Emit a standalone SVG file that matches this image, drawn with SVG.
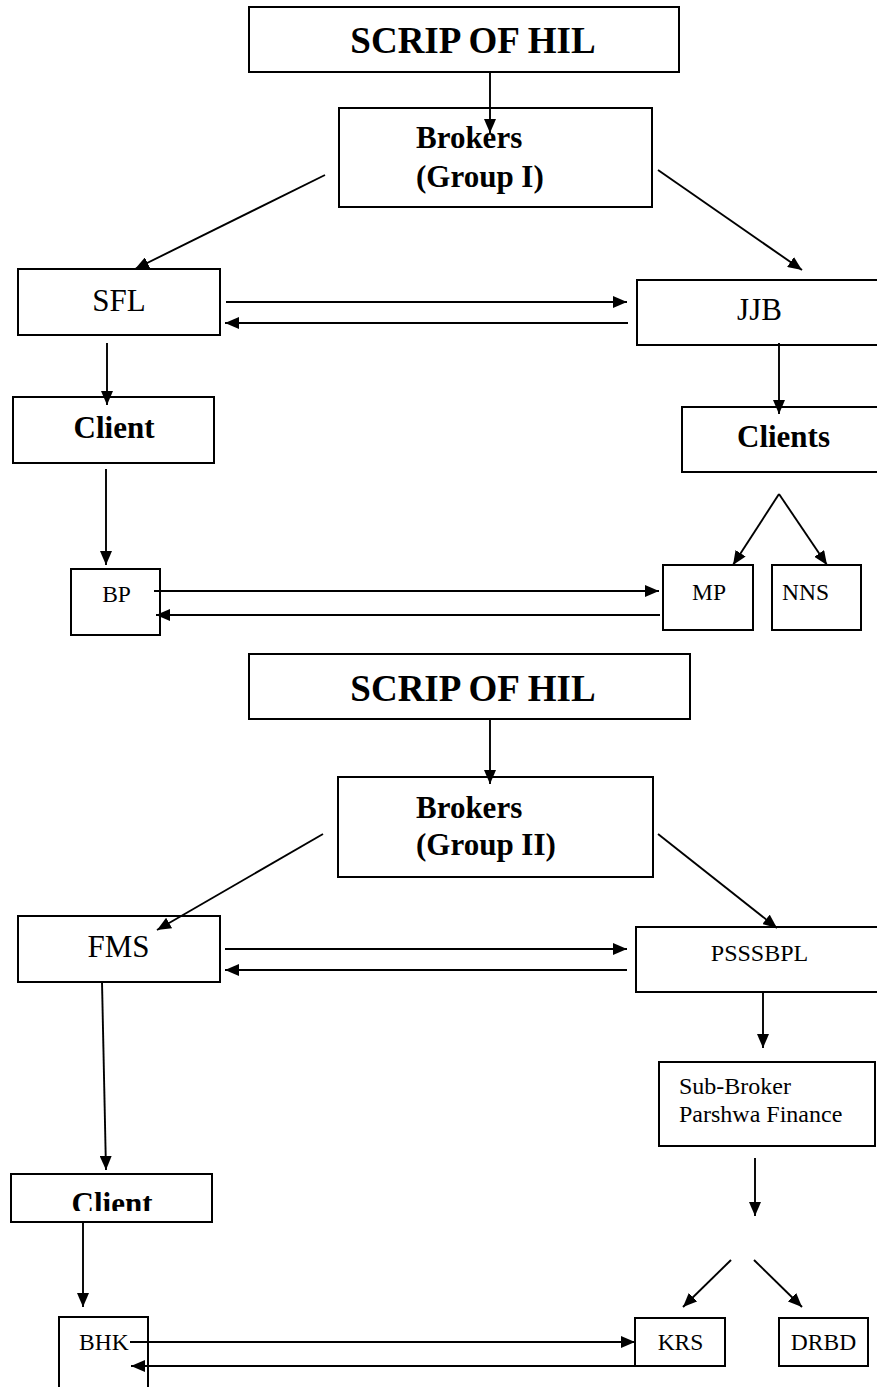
<svg xmlns="http://www.w3.org/2000/svg" width="877" height="1387" viewBox="0 0 877 1387">
<style>
.box{fill:#fff;stroke:#000;stroke-width:2}
.t{font-family:"Liberation Serif","Times New Roman",serif;fill:#000}
.b{font-weight:bold}
.big{font-size:37px}
.mid{font-size:31px}
.sm{font-size:23.5px}
.c{text-anchor:middle}
.ln{fill:none;stroke:#000;stroke-width:1.9}
.arr{marker-end:url(#ah)}
</style>
<defs>
<marker id="ah" viewBox="0 0 14 12" refX="14" refY="6" markerWidth="14" markerHeight="12" markerUnits="userSpaceOnUse" orient="auto">
<path d="M0,0 L14,6 L0,12 z" fill="#000"/>
</marker>
<clipPath id="clipClient"><rect x="0" y="1170" width="300" height="41"/></clipPath>
</defs>
<rect width="877" height="1387" fill="#fff"/>

<g id="scrip1"><rect class="box" x="249" y="7" width="430" height="65"/><text class="t b big c" x="473" y="53">SCRIP OF HIL</text></g>
<g id="brokers1"><rect class="box" x="339" y="108" width="313" height="99"/><text class="t b mid" x="416" y="148">Brokers</text><text class="t b mid" x="416" y="187">(Group I)</text></g>
<g id="sfl"><rect class="box" x="18" y="269" width="202" height="66"/><text class="t mid c" x="119" y="311">SFL</text></g>
<g id="jjb"><rect class="box" x="637" y="280" width="260" height="65"/><text class="t mid c" x="759.5" y="320">JJB</text></g>
<g id="client1"><rect class="box" x="13" y="397" width="201" height="66"/><text class="t b mid c" x="114" y="438">Client</text></g>
<g id="clients"><rect class="box" x="682" y="407" width="215" height="65"/><text class="t b mid c" x="783.5" y="447">Clients</text></g>
<g id="bp"><rect class="box" x="71" y="569" width="89" height="66"/><text class="t sm c" x="116.5" y="602">BP</text></g>
<g id="mp"><rect class="box" x="663" y="565" width="90" height="65"/><text class="t sm c" x="709" y="600">MP</text></g>
<g id="nns"><rect class="box" x="772" y="565" width="89" height="65"/><text class="t sm c" x="805.5" y="600">NNS</text></g>

<g id="scrip2"><rect class="box" x="249" y="654" width="441" height="65"/><text class="t b big c" x="473" y="701">SCRIP OF HIL</text></g>
<g id="brokers2"><rect class="box" x="338" y="777" width="315" height="100"/><text class="t b mid" x="416" y="818">Brokers</text><text class="t b mid" x="416" y="855">(Group II)</text></g>
<g id="fms"><rect class="box" x="18" y="916" width="202" height="66"/><text class="t mid c" x="118.5" y="957">FMS</text></g>
<g id="psssbpl"><rect class="box" x="636" y="927" width="260" height="65"/><text class="t c" font-size="24" x="759.5" y="961">PSSSBPL</text></g>
<g id="subbroker"><rect class="box" x="659" y="1062" width="216" height="84"/><text class="t" font-size="24" x="679" y="1094">Sub-Broker</text><text class="t" font-size="24" x="679" y="1122">Parshwa Finance</text></g>
<g id="client2"><rect class="box" x="11" y="1174" width="201" height="48"/><text class="t b mid c" x="112" y="1214" clip-path="url(#clipClient)">Client</text></g>
<g id="bhk"><rect class="box" x="59" y="1317" width="89" height="100"/><text class="t sm" x="79" y="1350">BHK</text></g>
<g id="krs"><rect class="box" x="635" y="1318" width="90" height="48"/><text class="t sm c" x="680.5" y="1350">KRS</text></g>
<g id="drbd"><rect class="box" x="779" y="1318" width="89" height="48"/><text class="t sm c" x="823.5" y="1350">DRBD</text></g>

<g id="connectors">
<line class="ln arr" x1="490" y1="72" x2="490" y2="133"/>
<line class="ln arr" x1="325" y1="175" x2="135" y2="269"/>
<line class="ln arr" x1="658" y1="170" x2="802" y2="270"/>
<line class="ln arr" x1="226" y1="302" x2="627" y2="302"/>
<line class="ln arr" x1="628" y1="323" x2="225" y2="323"/>
<line class="ln arr" x1="107" y1="343" x2="107" y2="405"/>
<line class="ln arr" x1="779" y1="343" x2="779" y2="414"/>
<line class="ln arr" x1="106" y1="469" x2="106" y2="565"/>
<line class="ln arr" x1="779" y1="494" x2="733" y2="565"/>
<line class="ln arr" x1="779" y1="494" x2="827" y2="565"/>
<line class="ln arr" x1="154" y1="591" x2="659" y2="591"/>
<line class="ln arr" x1="660" y1="615" x2="156" y2="615"/>

<line class="ln arr" x1="490" y1="719" x2="490" y2="784"/>
<line class="ln arr" x1="323" y1="834" x2="157" y2="930"/>
<line class="ln arr" x1="658" y1="834" x2="777" y2="928"/>
<line class="ln arr" x1="225" y1="949" x2="627" y2="949"/>
<line class="ln arr" x1="627" y1="970" x2="225" y2="970"/>
<line class="ln arr" x1="102" y1="982" x2="106" y2="1170"/>
<line class="ln arr" x1="763" y1="992" x2="763" y2="1048"/>
<line class="ln arr" x1="755" y1="1158" x2="755" y2="1216"/>
<line class="ln arr" x1="731" y1="1260" x2="683" y2="1307"/>
<line class="ln arr" x1="754" y1="1260" x2="802" y2="1307"/>
<line class="ln arr" x1="83" y1="1222" x2="83" y2="1307"/>
<line class="ln arr" x1="130" y1="1342" x2="635" y2="1342"/>
<line class="ln arr" x1="635" y1="1366" x2="131" y2="1366"/>
</g>
</svg>
